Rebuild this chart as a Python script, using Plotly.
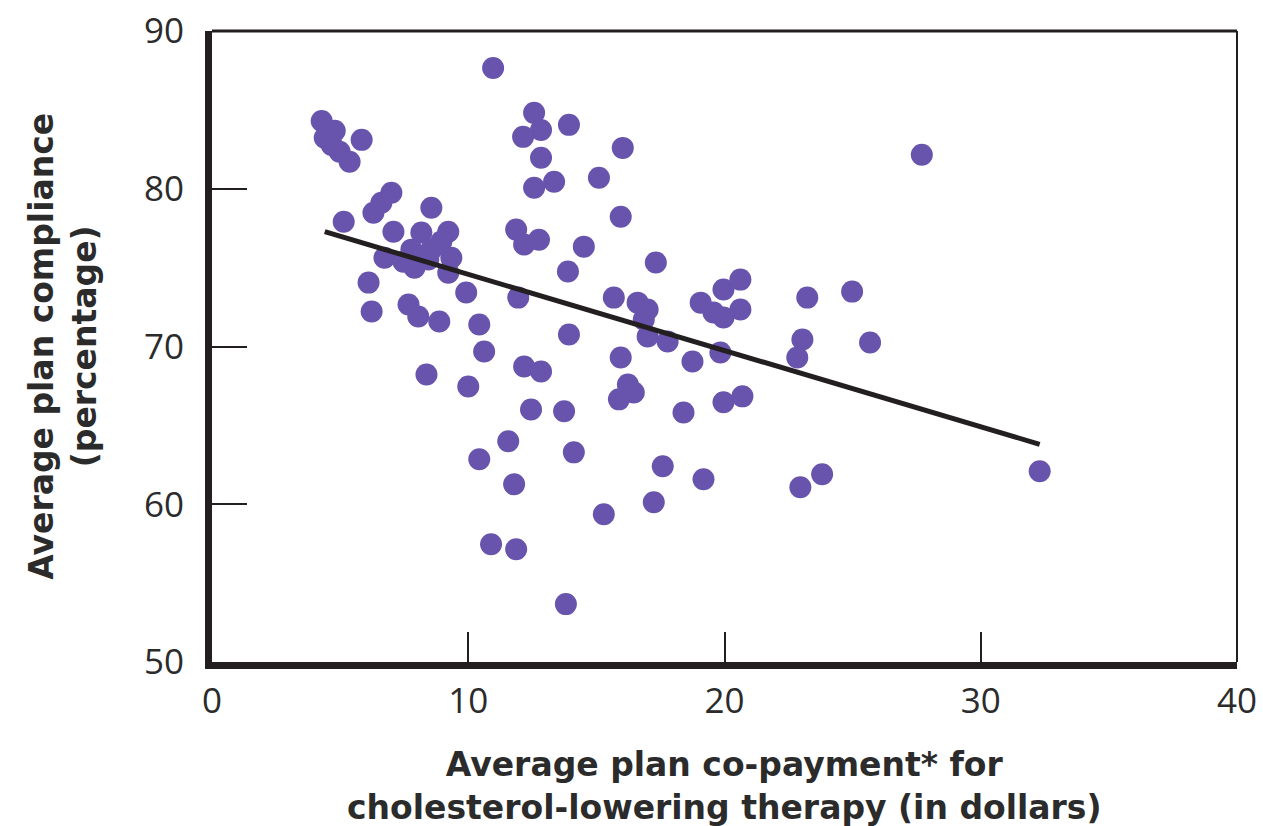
import plotly.graph_objects as go

# Average plan co-payment (dollars) and average plan compliance (%) per plan
copay = [
    4.28, 4.40, 4.79, 4.67, 4.98, 5.37, 5.84,
    7.00, 6.61, 6.30, 5.14, 7.08, 8.56, 9.22, 8.17, 7.78, 8.56, 9.34, 7.90,
    9.22, 8.44, 6.73, 6.11, 6.23, 7.67, 8.05, 8.87, 9.92, 10.43, 10.62,
    8.37, 10.00, 8.95, 7.47,
    10.97, 12.57, 12.84, 12.14, 13.93, 12.84, 12.57, 13.35, 15.10, 16.03,
    15.95, 11.87, 12.18, 12.76, 14.51, 13.89, 11.95, 13.93, 12.18, 12.84,
    12.45, 13.74, 11.56, 10.43, 14.12, 11.79, 10.89, 11.87, 13.81, 15.29,
    17.24, 17.59, 19.18,
    15.68, 16.61, 17.00, 16.85, 17.00, 17.78, 17.32, 15.95, 16.23, 16.46,
    15.88, 18.75, 18.40, 19.96, 20.70, 19.07, 19.96, 20.62, 19.57, 20.62,
    19.96, 19.84, 23.23, 24.98, 23.04, 22.84, 25.68, 27.70, 32.30, 23.81,
    22.96,
]
compliance = [
    84.30, 83.23, 83.67, 82.78, 82.34, 81.71, 83.10,
    79.75, 79.11, 78.48, 77.91, 77.28, 78.80, 77.28, 77.22, 76.14, 76.14,
    75.63, 75.00, 74.68, 75.51, 75.63, 74.05, 72.22, 72.66, 71.90, 71.58,
    73.42, 71.39, 69.68, 68.23, 67.47, 76.65, 75.38,
    87.66, 84.81, 83.73, 83.29, 84.05, 81.96, 80.06, 80.44, 80.70, 82.59,
    78.23, 77.41, 76.46, 76.77, 76.33, 74.75, 73.10, 70.76, 68.73, 68.42,
    66.01, 65.89, 63.99, 62.85, 63.29, 61.27, 57.47, 57.15, 53.67, 59.37,
    60.13, 62.41, 61.58,
    73.10, 72.78, 72.34, 71.71, 70.63, 70.32, 75.32, 69.30, 67.59, 67.09,
    66.65, 69.05, 65.82, 66.46, 66.84, 72.78, 73.61, 74.24, 72.15, 72.34,
    71.84, 69.62, 73.10, 73.48, 70.44, 69.30, 70.25, 82.15, 62.09, 61.90,
    61.08,
]

# Fitted trend line end points
trend_x = [4.40, 32.30]
trend_y = [77.28, 63.80]

x_ticks = [0, 10, 20, 30, 40]
y_ticks = [50, 60, 70, 80, 90]

INK = "#231f20"
DOT = "#6853ad"
TICK_FONT = dict(family="Open Sans", size=35, color="#2b2b2b")
TITLE_FONT = dict(family="DejaVu Sans", size=33, color="#2b2b2b", weight=700)

fig = go.Figure()
fig.add_trace(go.Scatter(
    x=copay, y=compliance, mode="markers",
    marker=dict(color=DOT, size=22, line=dict(width=0)),
    hoverinfo="x+y", showlegend=False,
))
fig.add_trace(go.Scatter(
    x=trend_x, y=trend_y, mode="lines",
    line=dict(color=INK, width=5),
    hoverinfo="skip", showlegend=False,
))

fig.update_layout(
    width=1263, height=826,
    margin=dict(l=212, r=26, t=31, b=164),
    paper_bgcolor="white", plot_bgcolor="white",
    xaxis=dict(
        range=[0, 40], tickvals=x_ticks, ticktext=[str(v) for v in x_ticks],
        showgrid=False, zeroline=False, automargin=False,
        showline=True, linecolor=INK, linewidth=7,
        ticks="inside", ticklen=30, tickwidth=2, tickcolor=INK,
        tickfont=TICK_FONT, ticklabelstandoff=2,
    ),
    yaxis=dict(
        range=[50, 90], tickvals=y_ticks, ticktext=[str(v) for v in y_ticks],
        showgrid=False, zeroline=False, automargin=False,
        showline=True, linecolor=INK, linewidth=7,
        ticks="inside", ticklen=35, tickwidth=2, tickcolor=INK,
        tickfont=TICK_FONT, ticklabelstandoff=14,
    ),
    shapes=[
        dict(type="line", xref="paper", yref="paper", x0=0, x1=1, y0=1, y1=1,
             line=dict(color=INK, width=3)),
        dict(type="line", xref="paper", yref="paper", x0=1, x1=1, y0=0, y1=1,
             line=dict(color=INK, width=2)),
    ],
    annotations=[
        dict(text="Average plan co-payment* for<br>cholesterol-lowering therapy (in dollars)",
             xref="paper", yref="paper", x=0.5, y=-0.196, xanchor="center",
             yanchor="middle", showarrow=False, font=TITLE_FONT, align="center"),
        dict(text="Average plan compliance<br>(percentage)",
             xref="paper", yref="paper", x=-0.146, y=0.5, xanchor="center",
             yanchor="middle", showarrow=False, font=TITLE_FONT, align="center",
             textangle=-90),
    ],
)

fig.write_html("out.html")
